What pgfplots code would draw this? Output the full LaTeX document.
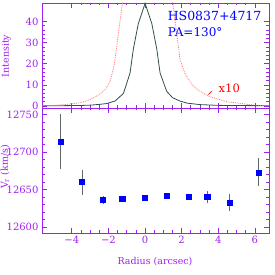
\documentclass[border=0pt]{standalone}
\usepackage{pgfplots}
\pgfplotsset{compat=1.18}
\usepackage{fontspec}
\setmainfont{DejaVu Serif}
\definecolor{axpurple}{RGB}{160,32,240}
\definecolor{curvegray}{RGB}{47,79,79}
\definecolor{lightred}{RGB}{255,110,110}
\definecolor{errgray}{RGB}{95,105,105}
\pgfplotsset{
  myaxis/.style={
    scale only axis,
    width=227pt,
    xmin=-5.63, xmax=6.77,
    axis line style={axpurple, line width=0.8pt},
    every tick/.style={axpurple, line width=0.8pt},
    major tick length=5pt,
    minor tick length=2.5pt,
    tick label style={font=\fontsize{10}{11}\selectfont, color=axpurple},
    label style={font=\fontsize{9.5}{11}\selectfont, color=axpurple},
    /pgf/number format/assume math mode=true,
    /pgf/number format/1000 sep={},
    xtick={-4,-2,0,2,4,6},
    minor x tick num=3,
    clip=true,
  }
}
\begin{document}
\begin{tikzpicture}
\useasboundingbox (0,0) rectangle (275pt,275pt);
% top panel
\begin{axis}[myaxis,
  at={(42pt,167pt)}, anchor=south west,
  height=105pt,
  ymin=-0.9, ymax=48.8,
  ytick={0,10,20,30,40},
  minor y tick num=4,
  xticklabels={},
]
\addplot[curvegray, line width=0.8pt] coordinates {
(-5.63,0.1) (-4.5,0.2) (-3.5,0.3) (-3.0,0.45) (-2.5,0.8) (-2.1,1.2) (-1.64,2.4)
(-1.18,6.0) (-0.82,15.7) (-0.64,27) (-0.37,39) (0,48.6)
(0.37,39) (0.64,27) (0.82,15.7) (1.18,7.0) (1.5,4.0) (1.9,2.4) (2.3,1.4)
(3.0,0.7) (4.0,0.35) (5.0,0.25) (6.77,0.2)
};
\addplot[lightred, densely dotted, line width=0.8pt] coordinates {
(-5.63,0.1) (-4.8,0.4) (-4.2,0.9) (-3.55,1.6) (-3.1,2.7) (-2.8,4.0) (-2.5,5.5) (-2.27,7.0)
(-2.05,9.5) (-1.9,12) (-1.75,17) (-1.64,22) (-1.46,34) (-1.22,50) (-1.0,80)
(0,480)
(1.2,80) (1.5,50) (1.75,33) (1.91,22) (2.2,15) (2.64,9.4) (3.0,7.0) (3.46,4.7)
(3.9,3.5) (4.5,2.0) (5.2,1.3) (5.8,0.6) (6.3,0.3) (6.77,0.2)
};
\node[anchor=west, text=blue, font=\fontsize{12.5}{14}\selectfont] at (axis cs:1.05,42.8) {HS0837+4717};
\node[anchor=west, text=blue, font=\fontsize{12}{14}\selectfont] at (axis cs:1.05,35.2) {PA=130°};
\node[anchor=center, text=red, font=\fontsize{11.5}{13}\selectfont] at (axis cs:4.6,8.6) {x10};
\draw[red, line width=0.6pt] (axis cs:3.46,5.5) -- (axis cs:3.66,7.2);
\end{axis}
\node[rotate=90, anchor=center, text=axpurple, font=\fontsize{9.5}{11}\selectfont] at (6.5pt,219pt) {Intensity};
% bottom panel
\begin{axis}[myaxis,
  at={(42pt,42pt)}, anchor=south west,
  height=125pt,
  ymin=12592, ymax=12759,
  ytick={12600,12650,12700,12750},
  minor y tick num=4,
  scaled y ticks=false,
  xticklabels={−4,−2,0,2,4,6},
]
\addplot[only marks, mark=square*, mark size=2.6pt, color=blue,
  error bars/.cd, y dir=both, y explicit,
  error bar style={color=errgray, line width=0.8pt},
  error mark options={color=errgray, mark size=2pt, line width=0.8pt}]
coordinates {
(-4.61,12714) +- (0,34)
(-3.44,12660) +- (0,14)
(-2.30,12636) +- (0,3)
(-1.25,12638) +- (0,1)
(0.00,12639) +- (0,1)
(1.18,12642) +- (0,1)
(2.37,12641) +- (0,1)
(3.39,12640) +- (0,5)
(4.63,12633) +- (0,9)
(6.20,12673) +- (0,16)
};
\end{axis}
\node[rotate=90, anchor=center, text=axpurple, font=\fontsize{9.5}{11}\selectfont] at (5pt,108pt) {V\textsubscript{r} (km/s)};
\node[anchor=center, text=axpurple, font=\fontsize{9.5}{11}\selectfont] at (155pt,13pt) {Radius (arcsec)};
\end{tikzpicture}
\end{document}
